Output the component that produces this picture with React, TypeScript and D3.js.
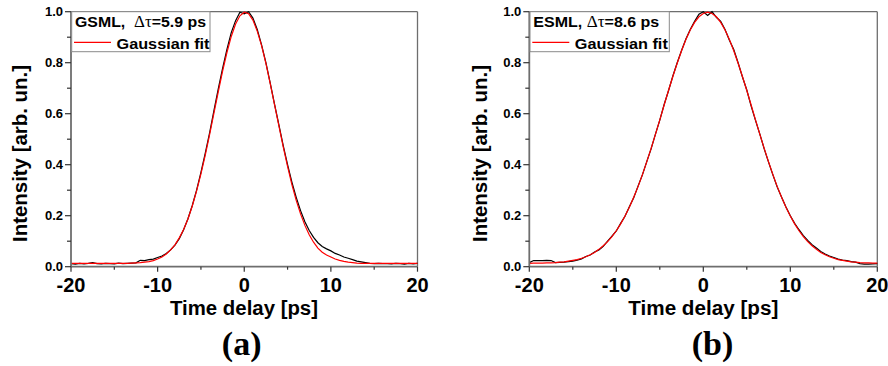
import React from "react";
import * as d3 from "d3";

const timeDelay = [
  -20, -19.5, -19, -18.5, -18, -17.5, -17, -16.5, -16, -15.5, -15, -14.5, -14, -13.5, -13, -12.5,
  -12, -11.5, -11, -10.5, -10, -9.5, -9, -8.5, -8, -7.5, -7, -6.5, -6, -5.5, -5, -4.5, -4, -3.5,
  -3, -2.5, -2, -1.5, -1, -0.5, 0, 0.5, 1, 1.5, 2, 2.5, 3, 3.5, 4, 4.5, 5, 5.5, 6, 6.5, 7, 7.5,
  8, 8.5, 9, 9.5, 10, 10.5, 11, 11.5, 12, 12.5, 13, 13.5, 14, 14.5, 15, 15.5, 16, 16.5, 17, 17.5,
  18, 18.5, 19, 19.5, 20,
];

const gsmlMeasured = [
  0.012, 0.010, 0.013, 0.011, 0.013, 0.016, 0.012, 0.011, 0.013, 0.012, 0.011, 0.014, 0.012, 0.013, 0.014, 0.015,
  0.025, 0.024, 0.028, 0.030, 0.036, 0.042, 0.052, 0.066, 0.085, 0.110, 0.145, 0.188, 0.240, 0.300, 0.370, 0.445,
  0.525, 0.612, 0.697, 0.778, 0.852, 0.918, 0.965, 0.998, 0.992, 1.000, 0.975, 0.930, 0.870, 0.800, 0.720, 0.637,
  0.556, 0.475, 0.400, 0.332, 0.272, 0.220, 0.176, 0.142, 0.115, 0.094, 0.079, 0.070, 0.062, 0.052, 0.046, 0.038,
  0.033, 0.028, 0.022, 0.019, 0.016, 0.013, 0.012, 0.013, 0.012, 0.012, 0.011, 0.013, 0.012, 0.010, 0.013, 0.011,
  0.013,
];

const gsmlFit = [
  0.013, 0.013, 0.013, 0.013, 0.013, 0.013, 0.013, 0.013, 0.013, 0.013, 0.013, 0.013, 0.013, 0.013, 0.014, 0.015,
  0.016, 0.018, 0.020, 0.024, 0.030, 0.038, 0.050, 0.066, 0.086, 0.113, 0.146, 0.187, 0.238, 0.297, 0.364, 0.438,
  0.518, 0.602, 0.686, 0.767, 0.840, 0.903, 0.952, 0.984, 0.998, 0.992, 0.967, 0.924, 0.867, 0.797, 0.718, 0.635,
  0.552, 0.470, 0.393, 0.322, 0.260, 0.207, 0.162, 0.125, 0.096, 0.073, 0.057, 0.046, 0.038, 0.030, 0.025, 0.021,
  0.018, 0.016, 0.014, 0.013, 0.013, 0.013, 0.013, 0.013, 0.013, 0.013, 0.013, 0.013, 0.013, 0.013, 0.013, 0.013,
  0.013,
];

const esmlMeasured = [
  0.016, 0.024, 0.024, 0.024, 0.025, 0.024, 0.016, 0.017, 0.018, 0.020, 0.022, 0.026, 0.030, 0.040, 0.046, 0.058,
  0.066, 0.080, 0.100, 0.120, 0.140, 0.170, 0.198, 0.235, 0.270, 0.316, 0.360, 0.412, 0.462, 0.520, 0.575, 0.636,
  0.690, 0.748, 0.800, 0.848, 0.893, 0.930, 0.962, 0.990, 1.000, 0.985, 1.000, 0.978, 0.962, 0.930, 0.888, 0.852,
  0.800, 0.744, 0.693, 0.630, 0.574, 0.520, 0.462, 0.410, 0.360, 0.312, 0.272, 0.234, 0.200, 0.170, 0.145, 0.122,
  0.103, 0.086, 0.073, 0.060, 0.050, 0.042, 0.036, 0.030, 0.026, 0.024, 0.020, 0.018, 0.012, 0.010, 0.010, 0.011,
  0.012,
];

const esmlFit = [
  0.013, 0.014, 0.014, 0.014, 0.015, 0.015, 0.016, 0.018, 0.019, 0.022, 0.025, 0.028, 0.033, 0.039, 0.047, 0.056,
  0.068, 0.082, 0.098, 0.118, 0.141, 0.168, 0.199, 0.233, 0.272, 0.314, 0.361, 0.411, 0.464, 0.519, 0.576, 0.634,
  0.691, 0.746, 0.798, 0.847, 0.891, 0.928, 0.958, 0.980, 0.993, 0.998, 0.993, 0.980, 0.958, 0.928, 0.891, 0.847,
  0.798, 0.746, 0.691, 0.634, 0.576, 0.519, 0.464, 0.411, 0.361, 0.314, 0.272, 0.233, 0.199, 0.168, 0.141, 0.118,
  0.098, 0.082, 0.068, 0.056, 0.047, 0.039, 0.033, 0.028, 0.025, 0.022, 0.019, 0.018, 0.016, 0.015, 0.015, 0.014,
  0.014,
];

const xMajorTicks = [-20, -10, 0, 10, 20];
const xMinorTicks = [-15, -5, 5, 15];
const yMajorTicks = [0, 0.2, 0.4, 0.6, 0.8, 1.0];
const yMinorTicks = [0.1, 0.3, 0.5, 0.7, 0.9];

const SANS = "'Liberation Sans', Arial, sans-serif";
const SERIF = "'Liberation Serif', 'Times New Roman', serif";
const AXIS = "#6e6e6e";

type PanelProps = {
  left: number;
  right: number;
  measured: number[];
  fit: number[];
  label: string;
  tau: string;
  labelPrefixGap: string;
  legendRight: number;
  labelLen: number;
  fitLen: number;
  yTitleX: number;
  xTitleCx: number;
  xTitleLen: number;
  letter: string;
  letterCx: number;
};

function Panel(p: PanelProps) {
  const top = 11.7;
  const bottom = 266.7;
  const x = d3.scaleLinear().domain([-20, 20]).range([p.left, p.right]);
  const y = d3.scaleLinear().domain([0, 1]).range([bottom, top]);
  const line = d3
    .line<number>()
    .x((_, i) => x(timeDelay[i]))
    .y((v) => y(v))
    .curve(d3.curveLinear);

  return (
    <g>
      <line x1={p.left} x2={p.right} y1={top} y2={top} stroke={AXIS} strokeWidth={1.3} />
      <line x1={p.right} x2={p.right} y1={top} y2={bottom} stroke={AXIS} strokeWidth={1.3} />
      <path d={line(p.measured) || ""} fill="none" stroke="#000" strokeWidth={1.2} />
      <path d={line(p.fit) || ""} fill="none" stroke="#ff0000" strokeWidth={1.2} />
      <line x1={p.left} x2={p.right} y1={bottom} y2={bottom} stroke={AXIS} strokeWidth={1.8} />
      <line x1={p.left} x2={p.left} y1={top} y2={bottom} stroke={AXIS} strokeWidth={1.8} />
      {xMajorTicks.map((t) => (
        <g key={"xm" + t}>
          <line x1={x(t)} x2={x(t)} y1={bottom} y2={bottom + 5} stroke="#333" strokeWidth={1.2} />
          <text x={x(t)} y={292} textAnchor="middle" fontFamily={SANS} fontWeight="bold" fontSize={20}>
            {t}
          </text>
        </g>
      ))}
      {xMinorTicks.map((t) => (
        <line key={"xn" + t} x1={x(t)} x2={x(t)} y1={bottom} y2={bottom + 3} stroke="#333" strokeWidth={1.2} />
      ))}
      {yMajorTicks.map((t) => (
        <g key={"ym" + t}>
          <line x1={p.left - 6} x2={p.left} y1={y(t)} y2={y(t)} stroke="#333" strokeWidth={1.2} />
          <text x={p.left - 8} y={y(t) + 4.6} textAnchor="end" fontFamily={SANS} fontWeight="bold" fontSize={13}>
            {t.toFixed(1)}
          </text>
        </g>
      ))}
      {yMinorTicks.map((t) => (
        <line key={"yn" + t} x1={p.left - 4} x2={p.left} y1={y(t)} y2={y(t)} stroke="#333" strokeWidth={1.2} />
      ))}
      <rect
        x={p.left + 0.7}
        y={top}
        width={p.legendRight - p.left - 0.7}
        height={40}
        fill="#fff"
        stroke="#8a8a8a"
        strokeWidth={1}
      />
      <text
        x={p.left + 4}
        y={27.3}
        fontFamily={SANS}
        fontWeight="bold"
        fontSize={15}
        textLength={p.labelLen}
        lengthAdjust="spacingAndGlyphs"
      >
        {p.label}
        {p.labelPrefixGap}
        <tspan fontFamily={SERIF} fontWeight="normal" fontSize={16}>
          Δτ
        </tspan>
        {p.tau}
      </text>
      <line x1={p.left + 3} x2={p.left + 40} y1={42.3} y2={42.3} stroke="#ff0000" strokeWidth={1.3} />
      <text
        x={p.left + 45.5}
        y={48.5}
        fontFamily={SANS}
        fontWeight="bold"
        fontSize={15}
        textLength={p.fitLen}
        lengthAdjust="spacingAndGlyphs"
      >
        Gaussian fit
      </text>
      <text
        transform={`translate(${p.yTitleX},153.5) rotate(-90)`}
        textAnchor="middle"
        fontFamily={SANS}
        fontWeight="bold"
        fontSize={20}
        textLength={177}
        lengthAdjust="spacingAndGlyphs"
      >
        Intensity [arb. un.]
      </text>
      <text
        x={p.xTitleCx}
        y={315}
        textAnchor="middle"
        fontFamily={SANS}
        fontWeight="bold"
        fontSize={19.5}
        textLength={p.xTitleLen}
        lengthAdjust="spacingAndGlyphs"
      >
        Time delay [ps]
      </text>
      <text x={p.letterCx} y={355} textAnchor="middle" fontFamily={SERIF} fontWeight="bold" fontSize={34}>
        {p.letter}
      </text>
    </g>
  );
}

export default function App() {
  return (
    <svg
      width={888}
      height={366}
      viewBox="0 0 888 366"
      style={{ position: "absolute", left: 0, top: 0, background: "#fff" }}
    >
      <rect x={0} y={0} width={888} height={366} fill="#fff" />
      <Panel
        left={71}
        right={417.5}
        measured={gsmlMeasured}
        fit={gsmlFit}
        label="GSML,"
        labelPrefixGap={"\u00a0\u00a0"}
        tau="=5.9 ps"
        legendRight={210}
        labelLen={131}
        fitLen={93}
        yTitleX={27}
        xTitleCx={244}
        xTitleLen={148}
        letter="(a)"
        letterCx={241.7}
      />
      <Panel
        left={529.3}
        right={877.3}
        measured={esmlMeasured}
        fit={esmlFit}
        label="ESML,"
        labelPrefixGap={"\u00a0"}
        tau="=8.6 ps"
        legendRight={669.3}
        labelLen={126}
        fitLen={93}
        yTitleX={487}
        xTitleCx={703.3}
        xTitleLen={150}
        letter="(b)"
        letterCx={712.5}
      />
    </svg>
  );
}
